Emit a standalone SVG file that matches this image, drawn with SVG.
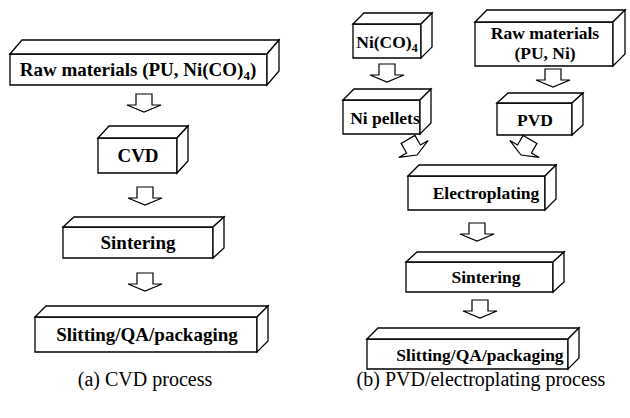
<svg xmlns="http://www.w3.org/2000/svg" width="630" height="418" viewBox="0 0 630 418">
  <defs>
    <style>
      .box path { fill: #fff; stroke: #000; stroke-width: 1.3; stroke-linejoin: miter; }
      .lbl { font-family: "Liberation Serif", serif; font-weight: bold; fill: #000; text-anchor: middle; }
      .l19 { font-size: 19px; }
      .l18 { font-size: 17.5px; }
      .cap { font-family: "Liberation Serif", serif; font-size: 20px; fill: #000; text-anchor: middle; }
      .arrow { fill: #fff; stroke: #000; stroke-width: 1.2; stroke-linejoin: miter; }
    </style>
    <!-- hollow block arrow, tip at the origin, pointing down -->
    <path id="blk" d="M-8,-18 H8 V-7 H17 L0,0 L-17,-7 H-8 Z"/>
  </defs>
  <rect width="630" height="418" fill="#fff"/>

  <!-- (a) CVD process -->
  <g id="a-raw" class="box">
    <path d="M10,54 H267 V85 H10 Z"/>
    <path d="M10,54 L22,40 H279 L267,54 Z"/>
    <path d="M267,54 L279,40 V71 L267,85 Z"/>
    <text class="lbl l19" x="138" y="76">Raw materials (PU, Ni(CO)<tspan font-size="13" dy="4">4</tspan><tspan dy="-4">)</tspan></text>
  </g>
  <g id="a-cvd" class="box">
    <path d="M98,138 H177 V173 H98 Z"/>
    <path d="M98,138 L109,126 H188 L177,138 Z"/>
    <path d="M177,138 L188,126 V161 L177,173 Z"/>
    <text class="lbl l19" x="138" y="162">CVD</text>
  </g>
  <g id="a-sinter" class="box">
    <path d="M63,227 H213 V258 H63 Z"/>
    <path d="M63,227 L74,217 H224 L213,227 Z"/>
    <path d="M213,227 L224,217 V248 L213,258 Z"/>
    <text class="lbl l19" x="138" y="249">Sintering</text>
  </g>
  <g id="a-slit" class="box">
    <path d="M35,317 H257 V352 H35 Z"/>
    <path d="M35,317 L46,306 H268 L257,317 Z"/>
    <path d="M257,317 L268,306 V341 L257,352 Z"/>
    <text class="lbl l19" x="147" y="341">Slitting/QA/packaging</text>
  </g>
  <text id="cap-a" class="cap" x="145" y="386">(a) CVD process</text>

  <!-- (b) PVD/electroplating process -->
  <g id="b-nico" class="box">
    <path d="M353,24 H421 V58 H353 Z"/>
    <path d="M353,24 L364,13 H432 L421,24 Z"/>
    <path d="M421,24 L432,13 V47 L421,58 Z"/>
    <text class="lbl l18" x="387" y="48">Ni(CO)<tspan font-size="12" dy="4">4</tspan></text>
  </g>
  <g id="b-raw" class="box">
    <path d="M475,22 H613 V66 H475 Z"/>
    <path d="M475,22 L487,10 H625 L613,22 Z"/>
    <path d="M613,22 L625,10 V54 L613,66 Z"/>
    <text class="lbl l18" x="545" y="39">Raw materials</text>
    <text class="lbl l18" x="545" y="59">(PU, Ni)</text>
  </g>
  <g id="b-pellets" class="box">
    <path d="M343,100 H420 V134 H343 Z"/>
    <path d="M343,100 L354,89 H431 L420,100 Z"/>
    <path d="M420,100 L431,89 V123 L420,134 Z"/>
    <text class="lbl l18" x="385" y="124">Ni pellets</text>
  </g>
  <g id="b-pvd" class="box">
    <path d="M497,103 H572 V135 H497 Z"/>
    <path d="M497,103 L508,93 H583 L572,103 Z"/>
    <path d="M572,103 L583,93 V125 L572,135 Z"/>
    <text class="lbl l18" x="535" y="126">PVD</text>
  </g>
  <g id="b-electro" class="box">
    <path d="M408,176 H545 V210 H408 Z"/>
    <path d="M408,176 L419,165 H556 L545,176 Z"/>
    <path d="M545,176 L556,165 V199 L545,210 Z"/>
    <text class="lbl l18" x="486" y="199">Electroplating</text>
  </g>
  <g id="b-sinter" class="box">
    <path d="M406,262 H553 V292 H406 Z"/>
    <path d="M406,262 L417,252 H564 L553,262 Z"/>
    <path d="M553,262 L564,252 V282 L553,292 Z"/>
    <text class="lbl l18" x="486" y="283">Sintering</text>
  </g>
  <g id="b-slit" class="box">
    <path d="M367,339 H568 V369 H367 Z"/>
    <path d="M367,339 L378,328 H579 L568,339 Z"/>
    <path d="M568,339 L579,328 V358 L568,369 Z"/>
    <text class="lbl l18" x="480" y="361">Slitting/QA/packaging</text>
  </g>
  <text id="cap-b" class="cap" x="481" y="386">(b) PVD/electroplating process</text>

  <!-- flow arrows -->
  <g id="connectors" class="arrow">
    <use href="#blk" transform="translate(144,112)"/>
    <use href="#blk" transform="translate(145,205)"/>
    <use href="#blk" transform="translate(145,291)"/>
    <use href="#blk" transform="translate(387,82)"/>
    <use href="#blk" transform="translate(553,87)"/>
    <use href="#blk" transform="translate(417,155) rotate(-30)"/>
    <use href="#blk" transform="translate(521,155) rotate(30)"/>
    <use href="#blk" transform="translate(477,241)"/>
    <use href="#blk" transform="translate(480,318)"/>
  </g>
</svg>
